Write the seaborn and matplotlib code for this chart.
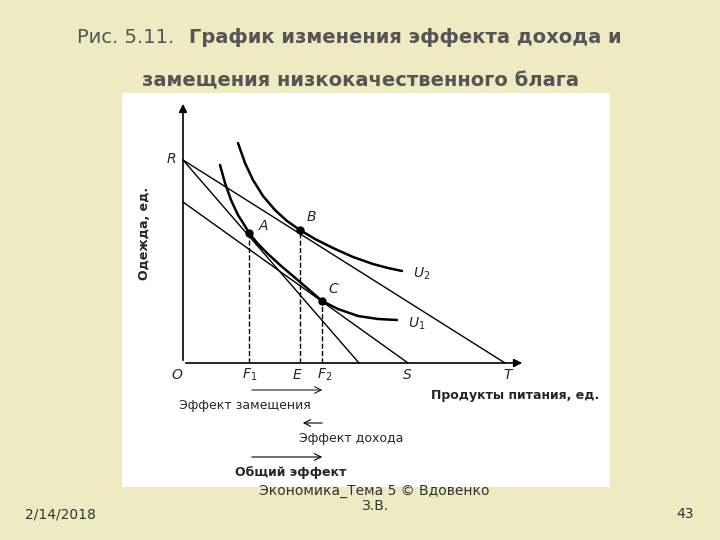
import matplotlib
matplotlib.use("Agg")
import matplotlib.pyplot as plt
import seaborn as sns

sns.set_theme(style="white")
plt.rcParams['font.family'] = ['DejaVu Sans']

# budget lines (x, y endpoints)
line_RT = [(0, 203), (322, 0)]
line_R2 = [(0, 203), (176, 0)]
line_low = [(0, 161), (225, 0)]
# indifference curves
u2_x = [55, 62, 70, 80, 92, 104, 117, 132, 150, 170, 190, 205, 219]
u2_y = [220, 200, 183, 167, 153, 142, 133, 124, 115, 106, 99, 95, 92]
u1_x = [37, 42, 48, 55, 62, 66, 75, 85, 97, 110, 124, 139, 155, 175, 195, 214]
u1_y = [198, 180, 163, 148, 137, 130, 119, 109, 98, 87, 75, 62, 54, 47, 44, 43]
pts = {"A": (66, 130), "B": (117, 133), "C": (139, 62)}

fig = plt.figure(figsize=(7.2, 5.4), dpi=100)
fig.patch.set_facecolor("#EEEBC2")
ax = fig.add_axes([122/720, 53/540, 488/720, 394/540])
ax.set_facecolor("white")
ax.set_xlim(-61, 427); ax.set_ylim(-124, 270)
for s in ax.spines.values(): s.set_visible(False)
ax.set_xticks([]); ax.set_yticks([])

k = dict(color="black", lw=1.0)
for ln in (line_RT, line_R2, line_low):
    ax.plot([ln[0][0], ln[1][0]], [ln[0][1], ln[1][1]], **k)
sns.lineplot(x=u2_x, y=u2_y, ax=ax, color="black", lw=1.8, sort=False)
sns.lineplot(x=u1_x, y=u1_y, ax=ax, color="black", lw=1.8, sort=False)
ax.annotate("", xy=(0, 262), xytext=(0, 0), arrowprops=dict(arrowstyle="-|>", color="black", lw=1.2))
ax.annotate("", xy=(342, 0), xytext=(0, 0), arrowprops=dict(arrowstyle="-|>", color="black", lw=1.2))
for name, (px, py) in pts.items():
    ax.plot(px, py, "o", color="black", ms=5)
    ax.plot([px, px], [0, py], ls="--", color="black", lw=1)
ax.text(76, 133, "A", style="italic", fontsize=10)
ax.text(124, 142, "B", style="italic", fontsize=10)
ax.text(145, 70, "C", style="italic", fontsize=10)
ax.text(230, 85, "U$_2$", style="italic", fontsize=10)
ax.text(225, 35, "U$_1$", style="italic", fontsize=10)
ax.text(-16, 200, "R", style="italic", fontsize=10)
for lab, x in [("O", -12), ("F$_1$", 59), ("E", 110), ("F$_2$", 134), ("S", 220), ("T", 320)]:
    ax.text(x, -16, lab, style="italic", fontsize=10)
ax.text(248, -36, "Продукты питания, ед.", fontsize=9, fontweight="bold")
ax.text(-45, 130, "Одежда, ед.", fontsize=9, fontweight="bold", rotation=90, va="center")
ax.annotate("", xy=(142, -27), xytext=(66, -27), arrowprops=dict(arrowstyle="->", color="black", lw=0.7))
ax.text(-4, -46, "Эффект замещения", fontsize=9)
ax.annotate("", xy=(117, -60), xytext=(142, -60), arrowprops=dict(arrowstyle="->", color="black", lw=0.8))
ax.text(116, -79, "Эффект дохода", fontsize=9)
ax.annotate("", xy=(142, -94), xytext=(66, -94), arrowprops=dict(arrowstyle="->", color="black", lw=0.8))
ax.text(52, -113, "Общий эффект", fontsize=9, fontweight="bold")

fig.text(0.107, 0.92, "Рис. 5.11.", fontsize=14, color="#555555")
fig.text(0.262, 0.92, "График изменения эффекта дохода и", fontsize=14, color="#555555", fontweight="bold")
fig.text(0.5, 0.84, "замещения низкокачественного блага", fontsize=14, color="#555555", fontweight="bold", ha="center")
fig.text(0.035, 0.04, "2/14/2018", fontsize=10, color="#333333")
fig.text(0.52, 0.055, "Экономика_Тема 5 © Вдовенко\nЗ.В.", fontsize=10, color="#333333", ha="center", linespacing=1.1)
fig.text(0.94, 0.04, "43", fontsize=10, color="#333333")
fig.savefig("out.png", dpi=100, facecolor=fig.get_facecolor())
